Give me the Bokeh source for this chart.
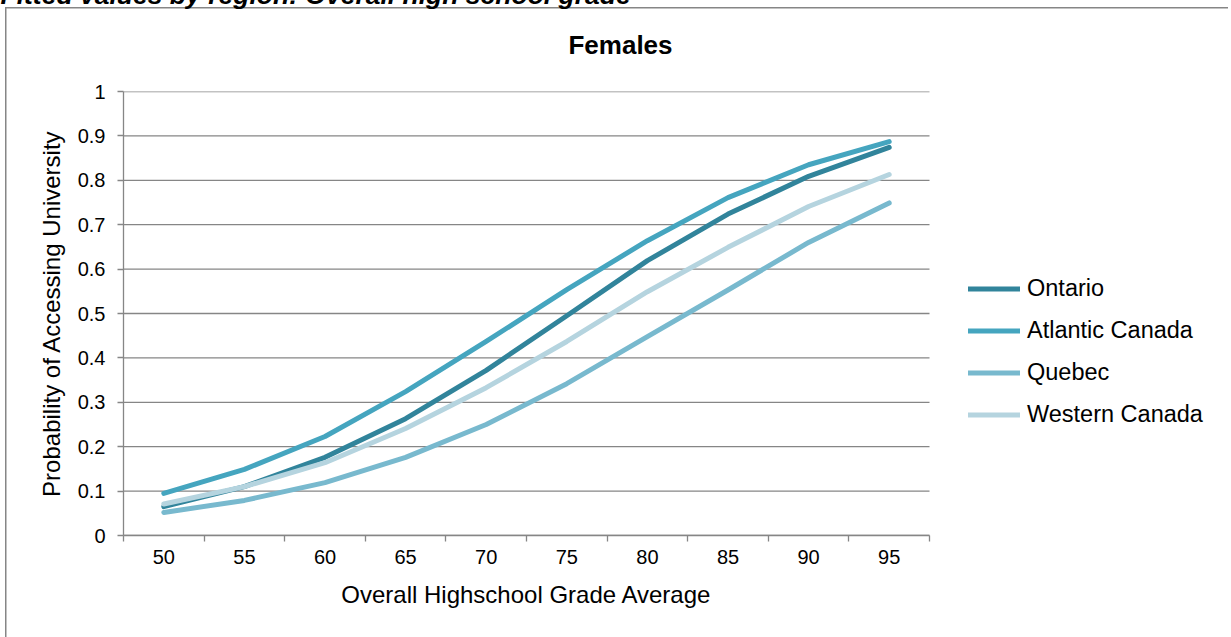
from bokeh.plotting import figure
from bokeh.models import (Range1d, FixedTicker, CustomJSTickFormatter, Legend,
                          LegendItem, Label)
from bokeh.embed import file_html
from bokeh.resources import INLINE

# Grade averages (categories) and fitted probabilities by region
grades = ["50", "55", "60", "65", "70", "75", "80", "85", "90", "95"]
ontario = [0.065, 0.110, 0.176, 0.263, 0.372, 0.495, 0.619, 0.724, 0.809, 0.874]
atlantic = [0.095, 0.149, 0.223, 0.324, 0.437, 0.554, 0.664, 0.761, 0.835, 0.887]
quebec = [0.052, 0.079, 0.119, 0.176, 0.250, 0.342, 0.448, 0.553, 0.660, 0.749]
western = [0.071, 0.110, 0.164, 0.241, 0.333, 0.437, 0.549, 0.649, 0.741, 0.813]
y_ticks = [0.0, 0.1, 0.2, 0.3, 0.4, 0.5, 0.6, 0.7, 0.8, 0.9, 1.0]

series = [
    ("Ontario", ontario, "#31849B"),
    ("Atlantic Canada", atlantic, "#45A5BF"),
    ("Quebec", quebec, "#78B9CE"),
    ("Western Canada", western, "#B5D4DF"),
]

FONT = "Liberation Sans"
GRID = "#868686"
W, H = 1231, 637

# plot area in pixels; the frame runs on to the right edge so the legend
# can sit beside the data area
AREA_LEFT, AREA_RIGHT, AREA_TOP, AREA_BOTTOM = 123, 929, 91, 535
n = len(grades)
x_end = n * (W - AREA_LEFT) / (AREA_RIGHT - AREA_LEFT)

p = figure(width=W, height=H, output_backend="svg", toolbar_location=None,
           x_range=Range1d(0, x_end), y_range=Range1d(0, 1),
           min_border_left=AREA_LEFT, min_border_right=0,
           min_border_top=AREA_TOP, min_border_bottom=H - AREA_BOTTOM)
p.outline_line_color = None
p.background_fill_color = "white"
# transparent surround; the chart-box edges (left and top) are painted
# as thin background strips on the host element
p.border_fill_color = None
p.styles = {
    "background": (
        f"linear-gradient({GRID}, {GRID}) 5px 7px / 1.5px 100% no-repeat, "
        f"linear-gradient({GRID}, {GRID}) 5px 7px / 100% 1.5px no-repeat, "
        "white"
    ),
    "clip-path": "inset(0 3px 0 0)",
}
p.xgrid.visible = False
p.ygrid.visible = False

# horizontal gridlines across the category span only
p.segment(x0=[0] * len(y_ticks), x1=[n] * len(y_ticks), y0=y_ticks, y1=y_ticks,
          line_color=GRID, line_width=1.3, level="underlay")

# category centres along the x axis
xs = [i + 0.5 for i in range(n)]

renderers = []
for name, vals, color in series:
    r = p.line(xs, vals, line_color=color, line_width=5,
               line_cap="round", line_join="round")
    renderers.append((name, r))

# x axis: labels at category centres, tick marks at category boundaries
xa = p.xaxis[0]
xa.bounds = (0, n)
xa.ticker = FixedTicker(ticks=xs, minor_ticks=list(range(n + 1)))
xa.formatter = CustomJSTickFormatter(args=dict(labels=grades),
                                     code="return labels[Math.round(tick - 0.5)];")
xa.major_tick_line_color = None
xa.minor_tick_line_color = GRID
xa.minor_tick_line_width = 1.3
xa.minor_tick_out = 6
xa.minor_tick_in = 0
xa.axis_line_color = GRID
xa.axis_line_width = 1.3
xa.major_label_text_font = FONT
xa.major_label_text_font_size = "20px"
xa.major_label_text_color = "black"
xa.major_label_standoff = 8

ya = p.yaxis[0]
ya.ticker = FixedTicker(ticks=y_ticks)
ya.formatter = CustomJSTickFormatter(code="return tick.toFixed(1).replace(/\\.0$/, '');")
ya.major_tick_line_color = GRID
ya.major_tick_line_width = 1.3
ya.major_tick_out = 6
ya.major_tick_in = 0
ya.minor_tick_line_color = None
ya.axis_line_color = GRID
ya.axis_line_width = 1.3
ya.major_label_text_font = FONT
ya.major_label_text_font_size = "20px"
ya.major_label_text_color = "black"
ya.major_label_standoff = 12
ya.axis_label = "Probability of Accessing University"
ya.axis_label_text_font = FONT
ya.axis_label_text_font_size = "24px"
ya.axis_label_text_font_style = "normal"
ya.axis_label_text_color = "black"
ya.axis_label_standoff = 10

legend = Legend(items=[LegendItem(label=nm, renderers=[r]) for nm, r in renderers],
                location=(845, 107), orientation="vertical",
                glyph_width=52, glyph_height=21, label_height=21,
                label_standoff=7, spacing=15, padding=0, margin=0,
                border_line_color=None, background_fill_alpha=0,
                label_text_font=FONT, label_text_font_size="23.5px",
                label_text_color="black")
p.add_layout(legend)

# x axis title, centred under the category span
p.add_layout(Label(x=(AREA_LEFT + AREA_RIGHT) / 2, y=594, x_units="canvas", y_units="canvas",
                   text="Overall Highschool Grade Average", text_font=FONT,
                   text_font_size="24px", text_align="center",
                   text_baseline="middle", text_color="black"), "below")

# chart title
p.add_layout(Label(x=620, y=44, x_units="canvas", y_units="canvas",
                   text="Females", text_font=FONT, text_font_size="26px",
                   text_font_style="bold", text_align="center",
                   text_baseline="middle", text_color="black"), "above")

# document caption above the chart box
p.add_layout(Label(x=0, y=-6, x_units="canvas", y_units="canvas",
                   text="Fitted values by region: Overall high school grade",
                   text_font=FONT, text_font_size="26.5px",
                   text_font_style="bold italic", text_align="left",
                   text_baseline="alphabetic", text_color="black"), "above")

open("out.html", "w").write(file_html(p, INLINE))
